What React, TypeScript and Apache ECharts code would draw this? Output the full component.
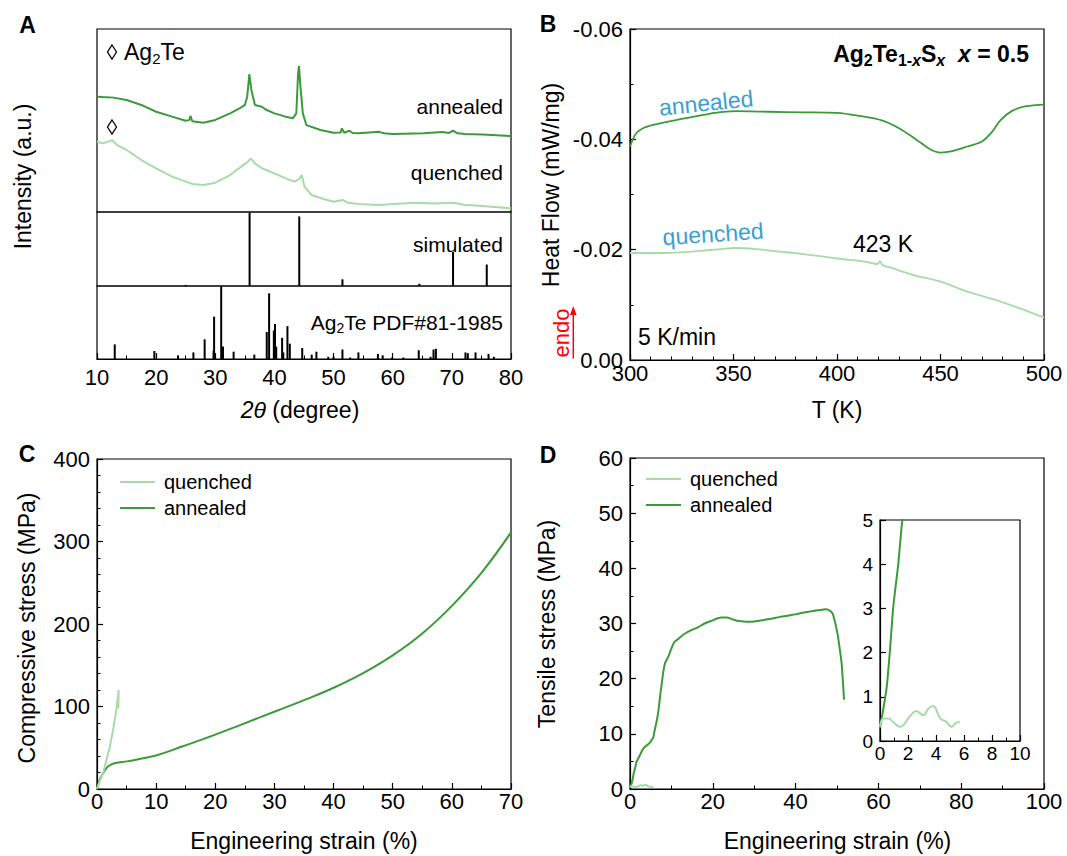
import React, { useEffect, useRef } from "react";
import * as echarts from "echarts";

const FONT = "'Liberation Sans', Arial, sans-serif";
const ANNEALED = "#3b9b3b";
const QUENCHED = "#a8dba8";
const BLUE = "#3a9fd5";

// ---------- Panel A: XRD (2theta, intensity a.u.) ----------
const xrdAnnealed: number[][] = [
  [10, 63.0], [11, 62.8], [12.8, 62.5], [15, 61.2], [17.5, 58.5], [20, 54.8], [22.7, 52.1],
  [25, 49.9], [25.6, 50.2], [25.8, 52.5], [26.1, 49.6], [28, 48.8], [30, 50.3], [32.5, 53.9],
  [34.4, 57.2], [35, 58.5], [35.4, 63.0], [35.76, 75.4], [36.1, 66.7], [36.7, 58.5], [37.9, 57.5],
  [38.5, 56], [40, 53.9], [41.9, 52.1], [43.1, 51.2], [43.7, 53.9], [44.0, 75.8], [44.15, 79.8],
  [44.4, 68.5], [44.8, 53.9], [45.4, 47.5], [47.8, 44.8], [50, 43.3], [51.2, 43.5], [51.4, 45.7],
  [51.8, 43.3], [52.7, 44.4], [53.2, 43.2], [54.2, 43.0], [57.7, 43.8], [58.5, 43.0], [60, 42.6],
  [65.2, 43.0], [68.4, 43.7], [69.5, 43.2], [70.2, 44.4], [71, 43.0], [72.2, 42.6], [75.2, 42.3],
  [80, 41.5],
];
const xrdQuenched: number[][] = [
  [10, 38.4], [11, 37.5], [12.0, 38.5], [12.5, 39.3], [13.4, 36.6], [15, 33.9], [17.5, 28.4],
  [20, 23.9], [22.7, 19.3], [25, 16.6], [26.2, 15.3], [28, 14.8], [30, 16.0], [32.5, 20.2],
  [34.4, 24.8], [35.5, 27.5], [36, 29.3], [36.7, 26.6], [37.9, 23.9], [40, 21.1], [41.9, 18.4],
  [43.4, 16.6], [44.3, 18.4], [44.6, 20.2], [45.1, 13.8], [46.3, 9.3], [48.3, 7.1], [50, 5.6],
  [51.5, 6.6], [52.5, 5.0], [54.2, 4.4], [57.7, 3.8], [60, 4.4], [64.1, 5.1], [67, 4.7],
  [70.2, 5.1], [72, 4.0], [75.2, 3.3], [80, 2.0],
];
const simPositions = [25.0, 35.8, 44.2, 51.5, 64.5, 70.2, 75.9];
const simHeights = [1.5, 99, 94, 9, 3, 46, 29];
const pdfPositions = [
  13.0, 19.7, 23.7, 26.3, 28.2, 29.7, 29.8, 31.0, 31.3, 33.1, 36.6, 38.7, 39.1, 39.9, 40.1, 40.3,
  41.3, 41.5, 42.2, 42.6, 44.7, 46.3, 47.1, 49.1, 50.0, 51.5, 52.8, 54.2, 57.5, 58.3, 59.9, 61.8,
  64.4, 66.4, 66.9, 67.3, 72.3, 72.7, 74.0, 76.2, 77.1,
];
const pdfHeights = [
  20, 11, 5, 9, 27, 11, 58, 100, 17, 10, 6, 37, 90, 39, 48, 17,
  29, 9, 45, 21, 15, 6, 10, 3, 3, 13, 2, 9, 7, 5, 2, 2,
  12, 3, 13, 14, 9, 8, 9, 7, 3,
];

// ---------- Panel B: DSC ----------
const dscAnnealed: number[][] = [
  [300, -0.0387], [301.3, -0.0399], [303, -0.0411], [306.3, -0.042], [311.2, -0.0426], [321, -0.0434],
  [331, -0.0441], [341, -0.0448], [351, -0.0451], [367, -0.045], [384, -0.0449], [400, -0.0448],
  [410, -0.0443], [422, -0.0434], [430, -0.042], [438.5, -0.0399], [445, -0.0382], [450, -0.0376],
  [455, -0.0378], [463, -0.0387], [470, -0.0396], [475, -0.0414], [479, -0.0435], [484.8, -0.0452],
  [491.4, -0.046], [500, -0.0463],
];
const dscQuenched: number[][] = [
  [300, -0.0194], [318, -0.0194], [331, -0.0197], [344, -0.0201], [351, -0.0203], [361, -0.0201],
  [371, -0.0197], [384, -0.0192], [400, -0.0184], [414, -0.0178], [419.5, -0.0174], [420.7, -0.0179],
  [422, -0.0172], [427, -0.0166], [437, -0.0154], [450, -0.0142], [463, -0.0124], [476.5, -0.0109],
  [488, -0.0094], [500, -0.0077],
];
const dscYTicks = [-0.06, -0.04, -0.02, 0];

// ---------- Panel C: compression ----------
const compAnnealed: number[][] = [
  [0, 0], [0.47, 11.3], [1.05, 19.4], [1.9, 27.5], [3.1, 31.5], [5.1, 33.5], [8.0, 37.6], [10.4, 41.6],
  [14.5, 51.8], [18.5, 61.9], [24.4, 78.1], [30.2, 94.3], [36.0, 110.5], [40.1, 123], [45, 140.5],
  [50, 162], [55, 188.5], [60, 222], [65, 262], [70, 311],
];
const compQuenched: number[][] = [
  [0, 0], [0.5, 10], [1.05, 20], [1.6, 35], [2.2, 52], [2.8, 75], [3.3, 98], [3.67, 120], [3.6, 98],
];

// ---------- Panel D: tension ----------
const tensileAnnealed: number[][] = [
  [0, 0.3], [0.24, 0.73], [0.48, 1.22], [0.71, 2.05], [0.95, 3.04], [1.31, 4.02], [1.6, 5.0], [1.9, 5.4],
  [2.5, 6.3], [3.1, 7.2], [3.7, 7.7], [4.4, 8.1], [5.0, 8.6], [5.6, 9.3], [6.0, 10.8], [6.5, 12.5],
  [6.9, 14.4], [7.3, 17], [7.7, 19.3], [8.1, 21.5], [8.5, 22.9], [9.3, 24.1], [10.6, 26.5], [11.8, 27.3],
  [13.1, 28.1], [14.8, 28.8], [16.4, 29.3], [18.0, 30.0], [19.7, 30.5], [21, 30.9], [22.1, 31.1],
  [23.4, 31.1], [24.6, 30.8], [25.8, 30.5], [27.1, 30.4], [28.7, 30.3], [30.4, 30.4], [32, 30.6],
  [33.7, 30.8], [36.2, 31.2], [38.7, 31.5], [40.3, 31.7], [42.0, 32.0], [43.7, 32.2], [45.3, 32.4],
  [46.4, 32.5], [47.4, 32.6], [48.3, 32.3], [49.0, 31.7], [49.6, 30.0], [50.2, 27.8], [50.7, 25.2],
  [51.1, 22.9], [51.4, 19.8], [51.7, 16.2],
];
const tensileQuenched: number[][] = [
  [0, 0.32], [0.24, 0.51], [0.6, 0.51], [0.95, 0.43], [1.43, 0.32], [1.67, 0.36], [2.14, 0.56],
  [2.6, 0.68], [3.1, 0.58], [3.45, 0.73], [3.8, 0.79], [4.3, 0.51], [4.76, 0.43], [5.1, 0.32],
  [5.43, 0.41], [5.7, 0.43],
];
const legendNames = ["quenched", "annealed"];

const axisLineStyle = { color: "#000", width: 1.2 };

function valueAxis(
  gridIndex: number, min: number, max: number, interval: number, minorSplit: number,
  fontSize: number, margin: number, extra: any = {}
) {
  return {
    type: "value",
    gridIndex,
    min,
    max,
    interval,
    axisLine: { show: true, onZero: false, lineStyle: axisLineStyle },
    axisTick: { show: true, inside: true, length: 6, lineStyle: axisLineStyle },
    minorTick: { show: minorSplit > 1, splitNumber: Math.max(minorSplit, 1), length: 3.5, lineStyle: { color: "#000", width: 1 } },
    splitLine: { show: false },
    minorSplitLine: { show: false },
    axisLabel: { color: "#000", fontSize, fontFamily: FONT, margin },
    ...extra,
  };
}

function grid(left: number, top: number, width: number, height: number) {
  return {
    left, top, width, height,
    show: true, borderColor: "#000", borderWidth: 1.2, backgroundColor: "transparent",
    containLabel: false, outerBoundsMode: "none",
  };
}

function text(x: number, y: number, t: string, o: any = {}) {
  return {
    type: "text",
    x, y,
    rotation: o.rotation || 0,
    z: 100,
    style: {
      text: t,
      fill: o.fill || "#000",
      fontSize: o.fontSize || 21,
      fontFamily: FONT,
      fontWeight: o.fontWeight || "normal",
      fontStyle: o.fontStyle || "normal",
      align: o.align || "center",
      verticalAlign: "middle",
      rich: o.rich,
    },
  };
}

function subRich(size: number, subSize: number, weight = "normal") {
  return {
    n: { fontSize: size, lineHeight: size + 5, fontFamily: FONT, fontWeight: weight, verticalAlign: "middle" },
    ni: { fontSize: size, lineHeight: size + 5, fontFamily: FONT, fontWeight: weight, fontStyle: "italic", verticalAlign: "middle" },
    s: { fontSize: subSize, lineHeight: subSize, fontFamily: FONT, fontWeight: weight, verticalAlign: "bottom" },
    si: { fontSize: subSize, lineHeight: subSize, fontFamily: FONT, fontWeight: weight, fontStyle: "italic", verticalAlign: "bottom" },
  };
}

function diamond(cx: number, cy: number) {
  return {
    type: "polygon",
    z: 100,
    shape: { points: [[cx, cy - 7], [cx + 4.5, cy], [cx, cy + 7], [cx - 4.5, cy]] },
    style: { fill: "none", stroke: "#000", lineWidth: 1.3 },
  };
}

function lineSeries(name: string, data: number[][], xi: number, color: string, width: number, smooth: number | boolean = false) {
  return {
    type: "line",
    name,
    xAxisIndex: xi,
    yAxisIndex: xi,
    data,
    symbol: "none",
    smooth,
    lineStyle: { color, width },
    itemStyle: { color },
    clip: true,
  };
}

function legend(left: number, top: number) {
  return {
    orient: "vertical", left, top, padding: 0, itemWidth: 35, itemHeight: 2, itemGap: 6,
    icon: "rect",
    selectedMode: false, data: legendNames,
    textStyle: { color: "#000", fontSize: 20, lineHeight: 20, fontFamily: FONT, padding: [0, 0, 0, 4] },
  };
}

export default function App() {
  const ref = useRef<HTMLDivElement>(null);

  useEffect(() => {
    if (!ref.current) return;
    const chart = echarts.init(ref.current, null, { renderer: "svg" });

    const option: any = {
      animation: false,
      backgroundColor: "#fff",
      textStyle: { fontFamily: FONT },
      grid: [
        grid(97, 29, 414, 183),
        grid(97, 212, 414, 74),
        grid(97, 286, 414, 73),
        grid(630, 29, 414, 331),
        grid(97, 459, 414, 330),
        grid(630, 458, 414, 331),
        grid(880, 520, 140, 221),
      ],
      xAxis: [
        { type: "value", gridIndex: 0, min: 10, max: 80, show: false },
        { type: "value", gridIndex: 1, min: 10, max: 80, show: false },
        valueAxis(2, 10, 80, 10, 2, 22, 7),
        valueAxis(3, 300, 500, 50, 5, 22, 2),
        valueAxis(4, 0, 70, 10, 2, 22, 1),
        valueAxis(5, 0, 100, 20, 2, 22, 1),
        valueAxis(6, 0, 10, 2, 2, 19, 3),
      ],
      yAxis: [
        { type: "value", gridIndex: 0, min: 0, max: 100, show: false },
        { type: "value", gridIndex: 1, min: 0, max: 100, show: false },
        { type: "value", gridIndex: 2, min: 0, max: 100, show: false },
        valueAxis(3, dscYTicks[0], dscYTicks[dscYTicks.length - 1], 0.02, 2, 22, 7, {
          inverse: true,
          axisLabel: {
            color: "#000", fontSize: 22, fontFamily: FONT, margin: 7,
            formatter: (v: number) => (Math.abs(v) < 1e-9 ? "0.00" : v.toFixed(2)),
          },
        }),
        valueAxis(4, 0, 400, 100, 5, 22, 7),
        valueAxis(5, 0, 60, 10, 2, 22, 7),
        valueAxis(6, 0, 5, 1, 0, 19, 7),
      ],
      legend: [legend(120, 472), legend(646, 469)],
      series: [
        lineSeries("annealed", compAnnealed, 4, ANNEALED, 2, 0.4),
        lineSeries("quenched", compQuenched, 4, QUENCHED, 2, false),
        lineSeries("xrd-annealed", xrdAnnealed, 0, ANNEALED, 2, false),
        lineSeries("xrd-quenched", xrdQuenched, 0, QUENCHED, 2, false),
        {
          type: "bar", name: "simulated", xAxisIndex: 1, yAxisIndex: 1, barWidth: 2,
          data: simPositions.map((p, i) => [p, simHeights[i]]),
          itemStyle: { color: "#000" },
        },
        {
          type: "bar", name: "pdf", xAxisIndex: 2, yAxisIndex: 2, barWidth: 2,
          data: pdfPositions.map((p, i) => [p, pdfHeights[i]]),
          itemStyle: { color: "#000" },
        },
        lineSeries("dsc-annealed", dscAnnealed, 3, ANNEALED, 1.8, 0.3),
        lineSeries("dsc-quenched", dscQuenched, 3, QUENCHED, 1.8, 0.3),
        lineSeries("annealed", tensileAnnealed, 5, ANNEALED, 2, 0.2),
        lineSeries("quenched", tensileQuenched, 5, QUENCHED, 2, 0.3),
        lineSeries("inset-annealed", tensileAnnealed, 6, ANNEALED, 2, 0.2),
        lineSeries("inset-quenched", tensileQuenched, 6, QUENCHED, 2, 0.4),
      ],
      graphic: [
        // panel letters
        text(27.5, 25, "A", { fontSize: 23, fontWeight: "bold" }),
        text(548, 24, "B", { fontSize: 23, fontWeight: "bold" }),
        text(27, 454, "C", { fontSize: 23, fontWeight: "bold" }),
        text(548, 455, "D", { fontSize: 23, fontWeight: "bold" }),
        // panel A
        diamond(112, 52),
        text(124, 52, "{n|Ag}{s|2}{n|Te}", { align: "left", rich: subRich(23, 15) }),
        diamond(112, 127),
        text(503, 106, "annealed", { align: "right", fontSize: 21 }),
        text(503, 172, "quenched", { align: "right", fontSize: 21 }),
        text(503, 244, "simulated", { align: "right", fontSize: 21 }),
        text(503, 322, "{n|Ag}{s|2}{n|Te PDF#81-1985}", { align: "right", rich: subRich(21, 14) }),
        text(22.5, 176.5, "Intensity (a.u.)", { fontSize: 23, rotation: Math.PI / 2 }),
        text(300, 410, "{ni|2θ}{n| (degree)}", { rich: subRich(23, 15) }),
        // panel B
        text(1029, 54, "{n|Ag}{s|2}{n|Te}{s|1-}{si|x}{n|S}{si|x}{n|  }{ni|x}{n| = 0.5}", {
          align: "right", fontWeight: "bold", rich: subRich(23, 16, "bold"),
        }),
        text(706, 103, "annealed", { fontSize: 23, fill: BLUE, rotation: 0.1 }),
        text(713, 234, "quenched", { fontSize: 23, fill: BLUE, rotation: 0.065 }),
        text(883, 244, "423 K", { fontSize: 23 }),
        text(638, 337, "5 K/min", { fontSize: 23, align: "left" }),
        text(550.5, 185, "Heat Flow (mW/mg)", { fontSize: 23, rotation: Math.PI / 2 }),
        text(561.5, 333, "endo", { fontSize: 22, fill: "#ff0000", rotation: Math.PI / 2 }),
        {
          type: "line", z: 100,
          shape: { x1: 573.3, y1: 358.5, x2: 573.3, y2: 313 },
          style: { stroke: "#ff0000", lineWidth: 1.5 },
        },
        {
          type: "polygon", z: 100,
          shape: { points: [[573.3, 306], [570, 315], [576.6, 315]] },
          style: { fill: "#ff0000" },
        },
        text(837, 410, "T (K)", { fontSize: 23 }),
        // panel C
        text(26.5, 628, "Compressive stress (MPa)", { fontSize: 23, rotation: Math.PI / 2 }),
        text(304, 841, "Engineering strain (%)", { fontSize: 23 }),
        // panel D
        text(547, 624, "Tensile stress (MPa)", { fontSize: 23, rotation: Math.PI / 2 }),
        text(837.5, 841, "Engineering strain (%)", { fontSize: 23 }),
      ],
    };

    chart.setOption(option);
    return () => chart.dispose();
  }, []);

  return (
    <div
      ref={ref}
      style={{ position: "absolute", left: 0, top: 0, width: 1067, height: 856, background: "#fff" }}
    />
  );
}
